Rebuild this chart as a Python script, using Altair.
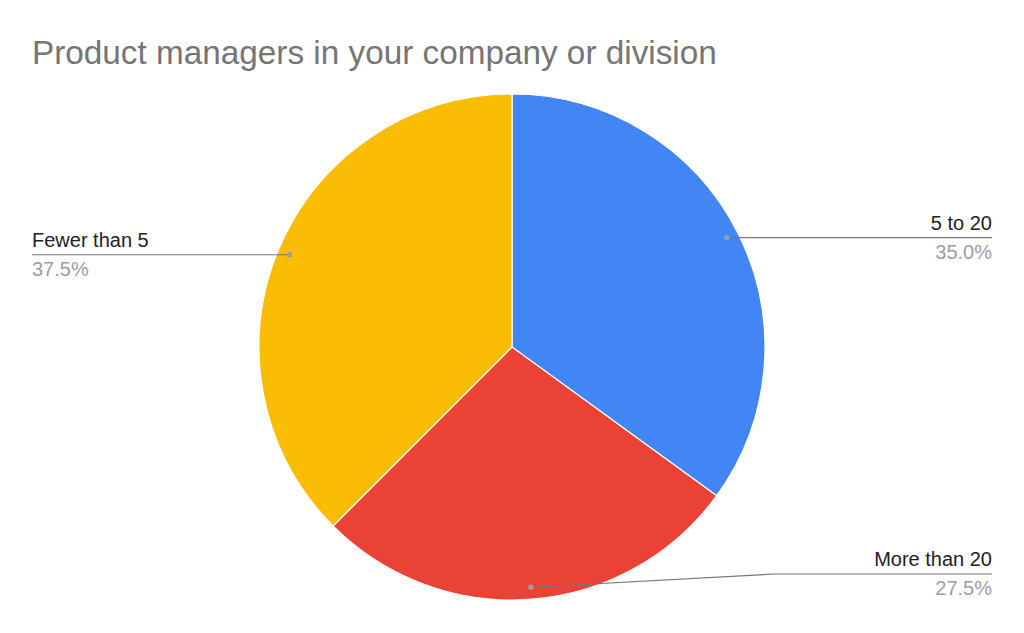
import altair as alt
import pandas as pd
import numpy as np

# ---- data ----
categories = ["5 to 20", "More than 20", "Fewer than 5"]
shares = [35.0, 27.5, 37.5]
colors = ["#4285f4", "#ea4335", "#fbbc04"]
title_text = "Product managers in your company or division"

# ---- layout (chart pixel coords) ----
W, H = 1004, 612
CX, CY = 504, 339
R = 253
DOT_R = 241
RIGHT_X, LEFT_X = 984, 24
label_y_override = {"More than 20": 566}
elbow_x = {"More than 20": 767}
FONT = "Liberation Sans"
LABEL_SIZE = 20

df = pd.DataFrame({"category": categories, "share": shares, "idx": range(len(categories))})
df["pct"] = [f"{s:.1f}%" for s in shares]
cum = np.cumsum(shares) - np.array(shares) / 2.0
mid = cum / sum(shares) * 2 * np.pi
df["dot_x"] = CX + DOT_R * np.sin(mid)
df["dot_y"] = CY - DOT_R * np.cos(mid)
df["right"] = np.sin(mid) >= 0
df["end_x"] = np.where(df["right"], RIGHT_X, LEFT_X)
df["line_y"] = [label_y_override.get(c, y) for c, y in zip(df["category"], df["dot_y"])]
df["name_y"] = df["line_y"] - 8
df["pct_y"] = df["line_y"] + 21

rows = []
for _, r in df.iterrows():
    pts = [(r["dot_x"], r["dot_y"])]
    if r["category"] in elbow_x:
        pts.append((elbow_x[r["category"]], r["line_y"]))
    pts.append((r["end_x"], r["line_y"]))
    for k, (x, y) in enumerate(pts):
        rows.append({"category": r["category"], "k": k, "x": x, "y": y})
lines = pd.DataFrame(rows)

color_scale = alt.Scale(domain=categories, range=colors)

pie = alt.Chart(df).mark_arc(radius=R, stroke="white", strokeWidth=1.2).encode(
    theta=alt.Theta("share:Q", stack=True),
    order=alt.Order("idx:Q"),
    color=alt.Color("category:N", scale=color_scale, legend=None),
    x=alt.value(CX),
    y=alt.value(CY),
)

leader = alt.Chart(lines).mark_line(color="#777777", strokeWidth=1.2).encode(
    x=alt.X("x:Q", scale=None, axis=None),
    y=alt.Y("y:Q", scale=None, axis=None),
    detail="category:N",
    order="k:Q",
)

dots = alt.Chart(df).mark_circle(color="#9e9e9e", size=30, opacity=1).encode(
    x=alt.X("dot_x:Q", scale=None, axis=None),
    y=alt.Y("dot_y:Q", scale=None, axis=None),
)

def labels(side, align):
    base = alt.Chart(df).transform_filter(
        alt.datum.right if side == "right" else ~alt.datum.right
    )
    name = base.mark_text(align=align, baseline="alphabetic", font=FONT, fontSize=LABEL_SIZE, color="#222222").encode(
        x=alt.X("end_x:Q", scale=None, axis=None),
        y=alt.Y("name_y:Q", scale=None, axis=None),
        text="category:N",
    )
    pct = base.mark_text(align=align, baseline="alphabetic", font=FONT, fontSize=LABEL_SIZE, color="#9e9e9e").encode(
        x=alt.X("end_x:Q", scale=None, axis=None),
        y=alt.Y("pct_y:Q", scale=None, axis=None),
        text="pct:N",
    )
    return name + pct

title = alt.Chart(pd.DataFrame({"t": [title_text]})).mark_text(
    align="left", baseline="alphabetic", font=FONT, fontSize=33.3, color="#757575"
).encode(x=alt.value(24), y=alt.value(56), text="t:N")

chart = alt.layer(pie, leader, dots, labels("right", "right"), labels("left", "left"), title).properties(
    width=W, height=H, padding=0, autosize=alt.AutoSizeParams(type="none")
).configure(background="white").configure_view(strokeWidth=0, stroke="transparent")

chart.save("out.html", embed_options={"renderer": "svg", "actions": False})
